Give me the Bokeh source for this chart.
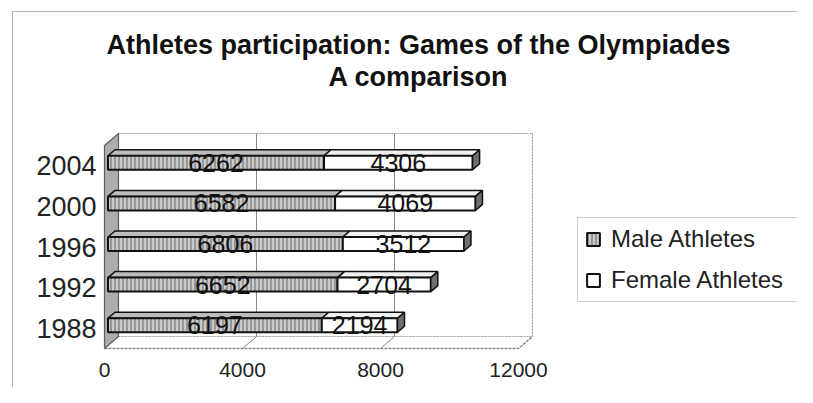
import numpy as np
from bokeh.plotting import figure
from bokeh.models import (Range1d, FixedTicker, Label, Legend, LegendItem)
from bokeh.embed import file_html
from bokeh.resources import INLINE
from bokeh.core.properties import value

# ---------------- data ----------------
years = ["1988", "1992", "1996", "2000", "2004"]
male = [6197, 6652, 6806, 6582, 6262]
female = [2194, 2704, 3512, 4069, 4306]
x_ticks = [0, 4000, 8000, 12000]
series_names = ["Male Athletes", "Female Athletes"]
title_lines = ["Athletes participation: Games of the Olympiades", "A comparison"]

# ---------------- geometry ----------------
W, H = 797, 387
PXX = 0.0345          # px per x unit
PXY = 40.6            # px per category
DX = 14 / PXX         # depth offset (x, data units)
DY = 12 / PXY         # depth offset (y, data units)
XMAX = 12000
NCAT = len(years)
BAR_H = 14 / PXY
D_F, D_B = 0.25, 0.75
FONT = "Liberation Sans"

# frame (canvas px): left axis + bottom axis only, frame spans the rest
fr_l, fr_r, fr_t, fr_b = 102, W, 0, 354
x0_px = 104                       # x = 0
y0_px = 348 - 0.5 * PXY           # y = 0 (first category centre)
x_start = (fr_l - x0_px) / PXX
x_end = (fr_r - x0_px) / PXX
y_start = (y0_px - fr_b) / PXY
y_end = (y0_px - fr_t) / PXY

p = figure(width=W, height=H, output_backend="svg", toolbar_location=None,
           x_range=Range1d(x_start, x_end), y_range=Range1d(y_start, y_end),
           min_border_left=fr_l, min_border_right=0,
           min_border_top=0, min_border_bottom=H - fr_b)
p.grid.visible = False
p.outline_line_color = None
p.background_fill_alpha = 0
p.border_fill_alpha = 0
# thin outer chart border (top & left), as in the reference
p.styles = {
    "background-color": "white",
    "background-image": "linear-gradient(#b4b4b4, #b4b4b4), linear-gradient(#b4b4b4, #b4b4b4)",
    "background-size": "1px 500px, 900px 1px",
    "background-position": "12px 11px, 12px 11px",
    "background-repeat": "no-repeat",
}

yf = -0.5            # floor front
yt = NCAT - 0.5      # wall top (front)

# back wall
p.quad(left=DX, right=XMAX + DX, bottom=yf + DY, top=yt + DY,
       fill_color="white", line_color=None)
p.line(x=[DX, XMAX + DX, XMAX + DX], y=[yt + DY, yt + DY, yf + DY],
       line_color="#9a9a9a", line_width=1.2, line_dash="2 1")
for t in x_ticks[1:-1]:
    p.line(x=[t + DX, t + DX], y=[yf + DY, yt + DY], line_color="#8a8a8a", line_width=1)
# floor
p.line(x=[DX, XMAX + DX], y=[yf + DY, yf + DY], line_color="#9a9a9a", line_width=1.2, line_dash="2 1")
p.line(x=[0, XMAX, XMAX + DX], y=[yf, yf, yf + DY], line_color="#8a8a8a", line_width=1.5, line_dash="3 1")
for t in x_ticks[1:-1]:
    p.line(x=[t, t + DX], y=[yf, yf + DY], line_color="#8a8a8a", line_width=1)
# left wall
p.patch(x=[0, DX, DX, 0], y=[yf, yf + DY, yt + DY, yt],
        fill_color="#adadad", line_color="#5e5e5e", line_width=1.2)

# ---------------- bars ----------------
yc = np.arange(NCAT, dtype=float)
m = np.array(male, dtype=float)
f = np.array(female, dtype=float)
fdx, fdy, bdx, bdy = D_F * DX, D_F * DY, D_B * DX, D_B * DY
ytop = yc + BAR_H / 2
ybot = yc - BAR_H / 2

segs = [(np.zeros(NCAT), m), (m, m + f)]
styles = [dict(fill_color="#cacaca", hatch_pattern="|", hatch_color="#747474",
               hatch_scale=4, hatch_weight=1.2),
          dict(fill_color="white")]
top_fill = ["#bdbdbd", "#f0f0f0"]
renderers = []
for (l, r), st, tf in zip(segs, styles, top_fill):
    xs = [[a + fdx, b + fdx, b + bdx, a + bdx] for a, b in zip(l, r)]
    ys = [[t + fdy, t + fdy, t + bdy, t + bdy] for t in ytop]
    p.patches(xs=xs, ys=ys, fill_color=tf, line_color="#111111", line_width=1.5)
    rr = p.hbar(y=yc + fdy, left=l + fdx, right=r + fdx, height=BAR_H,
                line_color="#111111", line_width=2, **st)
    renderers.append(rr)
# end caps
R = m + f
xs = [[a + fdx, a + bdx, a + bdx, a + fdx] for a in R]
ys = [[b + fdy, b + bdy, t + bdy, t + fdy] for b, t in zip(ybot, ytop)]
p.patches(xs=xs, ys=ys, fill_color="#6e6e6e", line_color="#111111", line_width=1.5)

# value labels
lab_x = np.concatenate([m / 2 + fdx, m + f / 2 + fdx])
lab_y = np.concatenate([yc + fdy, yc + fdy])
lab_t = [str(v) for v in male] + [str(v) for v in female]
p.text(x=lab_x, y=lab_y, text=lab_t, text_align="center", text_baseline="middle",
       text_font=value(FONT), text_font_size="25px", text_color="#111111")

# ---------------- axes ----------------
p.xaxis.ticker = FixedTicker(ticks=x_ticks)
p.xaxis.axis_line_color = None
p.xaxis.major_tick_line_color = None
p.xaxis.minor_tick_line_color = None
p.xaxis.major_label_text_font = FONT
p.xaxis.major_label_text_font_size = "21px"
p.xaxis.major_label_text_color = "#222222"
p.xaxis.major_label_standoff = 2

p.yaxis.ticker = FixedTicker(ticks=list(range(NCAT)))
p.yaxis.major_label_overrides = {i: y for i, y in enumerate(years)}
p.yaxis.axis_line_color = None
p.yaxis.major_tick_line_color = None
p.yaxis.minor_tick_line_color = None
p.yaxis.major_label_text_font = FONT
p.yaxis.major_label_text_font_size = "27px"
p.yaxis.major_label_text_color = "#222222"
p.yaxis.major_label_standoff = 0

# ---------------- legend (frame-relative position) ----------------
legend = Legend(items=[LegendItem(label=series_names[0], renderers=[renderers[0]]),
                       LegendItem(label=series_names[1], renderers=[renderers[1]])],
                location=(577 - fr_l, fr_b - 302), orientation="vertical",
                label_text_font=FONT, label_text_font_size="24px",
                label_text_color="#222222", label_width=205,
                glyph_width=16, glyph_height=16, label_standoff=10,
                label_height=28, spacing=13, padding=7, margin=0,
                border_line_color="#a0a0a0", border_line_width=1.2,
                background_fill_color="white", background_fill_alpha=1)
p.add_layout(legend)

# ---------------- title (frame-relative screen units) ----------------
for txt, base in zip(title_lines, [44, 76]):
    p.add_layout(Label(x=418 - fr_l, y=fr_b - base, x_units="screen", y_units="screen",
                       text=txt, text_align="center", text_baseline="alphabetic",
                       text_font=FONT, text_font_style="bold",
                       text_font_size="27px", text_color="#111111"))

open("out.html", "w").write(file_html(p, INLINE))
